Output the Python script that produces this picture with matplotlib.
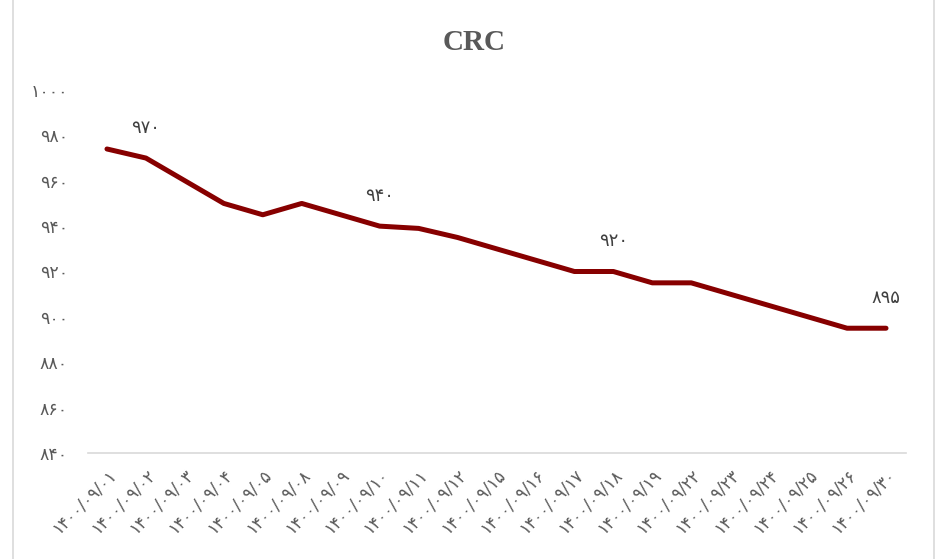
import matplotlib
matplotlib.use("Agg")
import matplotlib.pyplot as plt
from matplotlib.lines import Line2D

dates = ["۱۴۰۰/۰۹/۰۱", "۱۴۰۰/۰۹/۰۲", "۱۴۰۰/۰۹/۰۳", "۱۴۰۰/۰۹/۰۴", "۱۴۰۰/۰۹/۰۵",
         "۱۴۰۰/۰۹/۰۸", "۱۴۰۰/۰۹/۰۹", "۱۴۰۰/۰۹/۱۰", "۱۴۰۰/۰۹/۱۱", "۱۴۰۰/۰۹/۱۲",
         "۱۴۰۰/۰۹/۱۵", "۱۴۰۰/۰۹/۱۶", "۱۴۰۰/۰۹/۱۷", "۱۴۰۰/۰۹/۱۸", "۱۴۰۰/۰۹/۱۹",
         "۱۴۰۰/۰۹/۲۲", "۱۴۰۰/۰۹/۲۳", "۱۴۰۰/۰۹/۲۴", "۱۴۰۰/۰۹/۲۵", "۱۴۰۰/۰۹/۲۶",
         "۱۴۰۰/۰۹/۳۰"]
values = [974, 970, 960, 950, 945, 950, 945, 940, 939, 935,
          930, 925, 920, 920, 915, 915, 910, 905, 900, 895, 895]
label_idx = [1, 7, 13, 20]
label_texts = ["۹۷۰", "۹۴۰", "۹۲۰", "۸۹۵"]
yticks = [840, 860, 880, 900, 920, 940, 960, 980, 1000]
ytick_labels = ["۸۴۰", "۸۶۰", "۸۸۰", "۹۰۰", "۹۲۰", "۹۴۰", "۹۶۰", "۹۸۰", "۱۰۰۰"]
title = "CRC"

plt.rcParams['font.family'] = ['DejaVu Sans']
fig = plt.figure(figsize=(9.38, 5.59), dpi=100)
ax = fig.add_axes([87.5/938, 1-453/559, (905.5-87.5)/938, (453-90)/559])

x = list(range(len(values)))
ax.plot(x, values, color="#870000", lw=3.6, solid_capstyle='round', solid_joinstyle='round')
ax.set_xlim(-0.5, len(values) - 0.5)
ax.set_ylim(840, 1000)
ax.set_yticks(yticks)
ax.set_yticklabels(ytick_labels)
ax.set_xticks(x)
ax.set_xticklabels(dates, rotation=45, ha='right', rotation_mode='anchor')
ax.tick_params(axis='both', length=0, labelcolor="#595959")
ax.tick_params(axis='y', pad=14, labelsize=12.5)
ax.tick_params(axis='x', pad=9, labelsize=12)
for s in ['top', 'right', 'left']:
    ax.spines[s].set_visible(False)
ax.spines['bottom'].set_color("#d9d9d9")
ax.spines['bottom'].set_linewidth(1.2)

for i, t in zip(label_idx, label_texts):
    ax.annotate(t, (i, values[i]), xytext=(0, 22), textcoords='offset points',
                ha='center', va='center', fontsize=13, color="#404040")

fig.text(474/938, 1-43/559, title, ha='center', va='center', fontsize=21,
         fontweight='bold', family='Liberation Serif', color="#595959")

for xp in [12.5/938, 933.5/938]:
    fig.add_artist(Line2D([xp, xp], [0, 1], transform=fig.transFigure, color="#d9d9d9", lw=1.2))

fig.savefig("out.png", dpi=100)
